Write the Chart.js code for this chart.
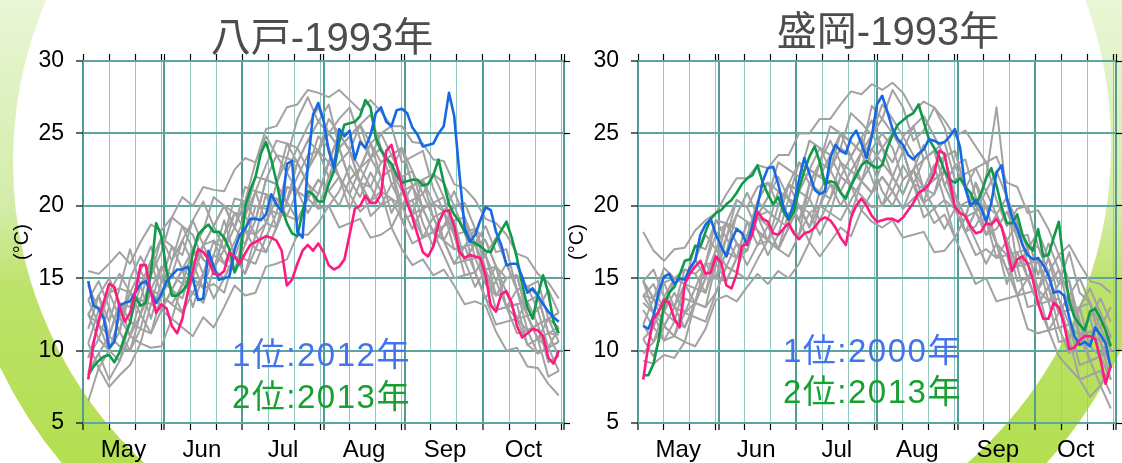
<!DOCTYPE html>
<html>
<head>
<meta charset="utf-8">
<script src="https://cdn.jsdelivr.net/npm/chart.js@4.4.1/dist/chart.umd.min.js"></script>
<style>
  html, body { margin: 0; padding: 0; background: #fff; }
  #wrap { position: relative; width: 1122px; height: 463px; overflow: hidden; }
  #deco { position: absolute; left: 0; top: 0; }
  canvas { position: absolute; top: 0; }
  #c1 { left: 0; }
  #c2 { left: 555px; }
  .ttl { position: absolute; font-family: "Liberation Sans", "Noto Sans CJK JP", sans-serif; font-size: 40px; line-height: 1;
         color: #4d4d4d; white-space: nowrap; transform: translate(-50%, -50%); }
  .lg { position: absolute; font-family: "Liberation Sans", "Noto Sans CJK JP", sans-serif; font-size: 33px; line-height: 1;
        white-space: nowrap; transform: translateY(-50%); letter-spacing: 1.5px; }
  .b { color: #4274f0; }
  .g { color: #18a031; }
</style>
</head>
<body>
<div id="wrap">
  <svg id="deco" width="1122" height="463">
    <defs>
      <linearGradient id="ring" x1="0" y1="0" x2="0" y2="463" gradientUnits="userSpaceOnUse">
        <stop offset="0" stop-color="#e9f6d6"/>
        <stop offset="0.45" stop-color="#d3eca8"/>
        <stop offset="0.62" stop-color="#bde26a"/>
        <stop offset="1" stop-color="#b3df50"/>
      </linearGradient>
      <clipPath id="clipL"><rect x="0" y="0" width="300" height="463"/></clipPath>
      <clipPath id="clipR"><rect x="800" y="0" width="322" height="463"/></clipPath>
    </defs>
    <circle cx="424" cy="162" r="441" fill="none" stroke="url(#ring)" stroke-width="60" clip-path="url(#clipL)"/>
    <circle cx="687" cy="145" r="452" fill="none" stroke="url(#ring)" stroke-width="56" clip-path="url(#clipR)"/>
  </svg>
  <canvas id="c1" width="575" height="463"></canvas>
  <canvas id="c2" width="567" height="463"></canvas>
  <div class="ttl" style="left:322px; top:37px;">八戸-1993年</div>
  <div class="ttl" style="left:888px; top:31px;">盛岡-1993年</div>
  <div class="lg b" style="left:232px; top:354px;">1位:2012年</div>
  <div class="lg g" style="left:232px; top:396px;">2位:2013年</div>
  <div class="lg b" style="left:783px; top:350px;">1位:2000年</div>
  <div class="lg g" style="left:783px; top:391px;">2位:2013年</div>
</div>
<script>
// days counted from 1 May
const lineDays = [2,4,6,8,10,12,14,16,18,20,22,24,26,28,30,32,34,36,38,40,42,44,46,48,50,52,54,56,58,60,
  62,64,66,68,70,72,74,76,78,80,82,84,86,88,90,92,94,96,98,100,102,104,106,108,110,112,114,116,118,120,
  122,124,126,128,130,132,134,136,138,140,142,144,146,148,150,152,154,156,158,160,162,164,166,168,170,172,174,176,178,180,182];
const grayDays = [2,6,10,14,18,22,26,30,34,38,42,46,50,54,58,62,66,70,74,78,82,86,90,94,98,102,106,110,114,118,
  122,126,130,134,138,142,146,150,154,158,162,166,170,174,178,182];

const monthNames = ["May", "Jun", "Jul", "Aug", "Sep", "Oct"];
const monthStarts = [0, 31, 61, 92, 123, 153, 184];
const junDays = [0,10,20,30,31,41,51,61,71,81,91,92,102,112,122,123,133,143,153,163,173,183,184];
const monthMids = [15.5, 45.5, 76.5, 107.5, 138.5, 168.5];
const tempTicks = [5, 10, 15, 20, 25, 30];

// 八戸
const hachinoheBlue = [14.8,13.1,12.9,12.2,10.2,10.6,13.1,13.3,13.4,14.0,14.6,14.8,14.0,13.3,13.9,14.8,15.2,15.6,15.6,15.8,
  15.0,13.5,13.6,16.9,15.8,14.9,15.0,15.1,17.0,18.0,18.4,19.1,19.1,19.0,19.4,20.8,20.1,19.6,22.9,23.1,
  18.2,17.8,22.8,26.3,27.1,25.9,23.8,22.6,25.3,24.8,25.2,23.2,24.4,24.0,24.9,26.4,26.8,25.8,25.5,26.6,
  26.7,26.4,25.4,24.9,24.1,24.2,24.3,25.0,25.5,27.8,26.2,22.2,18.5,17.5,18.0,19.0,19.9,19.7,18.2,17.3,
  15.9,16.0,16.0,15.1,14.0,14.3,13.8,13.2,12.7,12.3,12.0];
const hachinoheGreen = [8.3,8.9,9.3,9.6,9.7,9.2,9.9,11.0,11.9,13.7,13.1,13.3,15.4,18.8,17.9,15.5,13.8,13.8,14.1,14.6,
  16.7,18.0,18.4,18.7,18.2,18.2,17.8,17.0,15.4,16.2,19.9,21.1,22.0,23.6,24.4,23.2,21.7,19.9,18.8,18.1,
  17.9,19.6,21.0,20.8,20.3,20.3,21.5,22.4,24.4,25.6,25.7,25.8,26.2,27.3,26.8,24.7,23.8,23.3,22.9,22.1,
  21.6,21.7,21.8,21.8,21.4,21.5,22.1,23.2,21.6,20.1,19.4,18.9,18.2,17.6,17.4,17.2,16.9,16.8,17.6,18.3,
  18.9,17.8,16.4,14.6,13.0,12.2,13.8,15.2,14.0,12.0,11.2];
const hachinohe1993 = [8.0,10.5,12.1,13.4,14.6,14.4,13.0,12.0,12.6,14.0,15.9,15.9,14.0,12.6,13.2,12.9,11.7,11.2,12.2,14.0,
  15.5,17.0,16.8,16.3,15.3,15.2,15.5,16.8,16.5,16.0,16.7,17.3,17.5,17.7,17.9,17.8,17.6,16.9,14.5,14.9,
  16.0,16.9,17.3,16.9,17.4,16.8,15.9,15.6,15.8,16.3,18.0,19.8,20.0,20.7,20.2,20.2,20.8,23.8,24.2,22.8,
  21.3,20.2,19.2,18.0,16.8,16.5,17.2,18.8,19.6,19.7,18.6,16.8,16.4,16.6,16.5,16.4,15.2,13.1,12.7,13.9,
  14.1,13.3,11.7,10.9,11.2,11.5,11.4,11.0,9.5,9.1,10.0];
const hachinoheGray = [
  [13.5,14.8,13.0,11.3,15.0,16.5,15.2,16.8,19.2,18.6,17.0,18.3,20.6,20.0,18.5,20.3,23.0,24.8,23.5,23.3,26.0,27.5,25.8,25.0,26.0,26.8,24.6,23.3,25.0,25.5,23.0,23.4,23.8,21.2,19.6,21.0,19.2,17.4,18.6,16.8,17.0,14.2,14.4,14.8,12.2,12.6],
  [8.5,9.8,8.0,9.3,11.0,10.5,13.2,12.8,12.2,14.6,14.0,13.3,15.6,17.0,15.5,17.3,20.0,19.8,19.5,22.3,24.0,22.5,23.8,26.0,25.0,23.8,25.6,26.3,24.0,22.5,24.0,22.4,19.8,20.2,20.6,18.0,16.2,17.4,15.6,12.8,13.0,13.2,10.4,10.8,8.2,8.6],
  [11.5,13.8,11.0,13.3,11.0,13.5,16.2,13.8,15.2,17.6,16.0,14.3,16.6,19.0,16.5,15.3,18.0,20.8,18.5,20.3,23.0,21.5,19.8,22.0,24.0,21.8,20.6,22.3,21.0,18.5,20.0,20.4,17.8,18.2,19.6,17.0,17.2,18.4,15.6,13.8,15.0,15.2,12.4,12.8,10.2,10.6],
  [6.5,8.8,7.5,8.3,9.0,10.5,10.2,10.3,12.2,11.6,11.0,12.3,11.6,13.0,14.5,13.8,14.0,15.8,16.0,16.3,18.0,18.0,18.8,20.0,18.5,18.8,19.1,17.8,18.0,18.5,17.0,15.9,16.3,15.2,15.6,14.5,13.2,13.4,13.1,11.3,10.0,10.2,8.9,8.8,7.7,6.9],
  [15.5,15.3,16.0,16.8,16.0,17.5,18.7,18.3,19.2,20.6,20.0,21.3,21.1,21.0,22.5,23.3,23.0,25.3,25.5,26.8,27.0,28.0,27.8,27.5,28.0,27.3,26.6,27.3,26.5,25.5,25.5,24.4,24.3,23.2,23.1,21.5,21.2,20.4,19.1,18.8,18.0,16.7,16.4,15.3,14.7,13.6],
  [9.5,10.8,13.0,11.3,10.0,11.5,14.2,12.8,14.2,15.6,13.0,15.3,17.6,16.0,15.5,18.3,21.0,18.8,18.5,21.3,21.0,19.5,20.8,23.0,22.0,19.8,21.6,23.3,22.0,19.5,21.0,21.4,18.8,17.2,18.6,19.0,16.2,14.4,15.6,15.8,13.0,11.2,11.4,11.8,9.2,9.6],
  [12.5,11.8,14.0,15.3,14.0,12.5,14.2,15.8,14.2,13.6,16.0,17.3,15.6,18.0,20.5,20.3,19.0,21.8,21.5,20.3,23.0,24.5,25.8,27.0,24.0,24.8,25.6,23.3,24.0,22.5,20.0,21.4,21.8,19.2,17.6,19.0,19.2,16.4,14.6,15.8,14.0,12.2,13.4,11.8,12.2,11.6],
  [12.5,10.8,10.0,12.3,14.0,12.5,11.2,12.8,14.2,12.6,14.0,15.3,13.6,15.0,16.5,15.3,17.0,16.8,18.5,20.3,19.0,20.5,21.8,21.0,20.0,21.8,22.6,21.3,20.0,21.5,22.0,19.4,17.8,19.2,19.6,18.0,15.2,15.4,16.6,14.8,13.0,14.2,12.4,10.8,12.2,12.6],
  [14.5,12.8,14.0,14.3,17.0,14.5,16.2,17.8,16.2,17.6,19.0,17.3,18.6,20.0,19.5,19.3,22.0,21.8,21.5,24.3,24.0,25.5,26.8,25.0,24.0,24.8,25.6,24.3,23.0,23.5,24.0,21.4,21.8,22.2,20.6,18.0,18.2,18.4,16.6,17.8,16.0,14.2,14.4,12.8,14.2,12.6],
  [10.5,8.8,10.0,9.3,12.0,11.5,11.2,13.8,13.2,12.6,15.0,14.3,14.6,14.0,16.5,16.3,16.0,17.8,19.5,19.3,19.0,20.5,21.8,21.0,22.0,20.8,19.6,20.3,21.0,20.5,19.0,17.4,17.8,18.2,16.6,15.0,15.2,15.4,13.6,11.8,12.0,12.2,10.4,9.8,10.2,8.6],
  [12.5,13.8,15.0,13.3,13.0,15.5,17.2,14.8,17.2,16.6,19.0,20.3,18.6,17.0,18.5,21.3,21.0,22.8,24.5,24.3,23.0,24.5,23.8,23.0,25.0,23.8,22.6,24.3,25.0,23.5,22.0,22.4,20.8,22.2,21.6,20.0,20.2,18.4,17.6,15.8,15.0,15.2,14.4,13.8,11.2,11.6],
  [9.5,11.8,11.0,13.3,12.0,14.5,12.2,14.8,14.2,15.6,17.0,15.3,16.6,16.0,17.5,19.3,18.0,18.8,20.5,19.3,21.0,22.5,23.8,22.0,23.0,23.8,21.6,20.3,22.0,22.5,19.0,19.4,19.8,18.2,17.6,16.0,17.2,15.4,13.6,12.8,13.0,12.2,12.4,10.8,11.2,11.1],
  [10.5,12.8,14.0,12.3,11.0,12.5,15.2,17.8,17.2,15.6,15.0,17.3,18.6,20.0,18.5,17.3,19.0,21.8,23.5,22.3,21.0,22.5,24.8,24.0,22.0,20.8,22.6,23.3,24.0,21.5,20.0,18.4,19.8,20.2,17.6,16.0,16.2,17.4,17.6,15.8,13.0,13.2,13.4,13.8,11.2,9.6],
  [13.5,11.8,10.0,11.3,14.0,15.5,14.2,13.8,16.2,18.6,18.0,16.3,15.6,18.0,19.5,18.3,17.0,18.8,21.5,23.3,23.0,21.5,20.8,23.0,25.0,23.8,21.6,21.3,23.0,23.5,24.0,21.4,19.8,18.2,18.6,20.0,18.2,15.4,13.6,14.8,16.0,14.2,11.4,9.8,10.2,10.6],
  [8.5,9.8,11.0,10.3,10.0,12.5,14.2,13.8,13.2,14.6,17.0,16.3,15.6,15.0,16.5,18.3,18.0,16.8,18.5,21.3,21.0,20.5,19.8,20.0,21.0,22.8,21.6,19.3,20.0,20.5,20.0,20.4,20.8,19.2,17.6,17.0,17.2,17.4,14.6,13.8,14.0,12.2,11.4,11.8,12.2,10.6],
  [12.5,13.8,12.0,14.3,14.0,13.5,13.2,15.8,15.2,14.6,15.0,17.3,17.6,17.0,19.5,19.3,21.0,20.8,20.5,20.3,22.0,23.5,23.8,25.0,24.0,21.8,22.6,24.3,22.0,22.5,21.0,19.4,21.8,20.2,19.6,18.0,16.2,16.4,16.6,13.8,15.0,15.2,12.4,10.8,10.2,11.6]
];

// 盛岡
const moriokaBlue = [11.7,11.5,12.4,14.1,15.1,15.3,14.6,15.0,14.9,15.7,16.2,18.0,18.7,19.1,18.0,17.2,16.5,17.6,18.4,18.1,
  17.3,18.6,20.0,21.7,22.6,22.7,21.5,19.9,19.1,20.2,21.8,23.3,22.2,21.1,20.8,21.0,23.3,24.2,23.8,23.6,
  24.7,25.2,24.3,23.3,24.8,27.0,27.6,26.5,25.3,24.6,24.2,23.5,23.2,23.6,23.9,24.6,24.5,24.3,24.4,24.8,
  25.3,24.0,21.2,20.0,20.4,19.9,18.9,20.2,22.3,22.8,20.5,19.2,18.4,17.3,16.6,16.3,16.4,15.9,15.2,14.0,
  14.1,13.8,12.3,11.0,10.4,10.6,10.3,11.6,11.1,10.5,8.8];
const moriokaGreen = [8.3,8.3,9.1,10.8,13.2,14.0,14.4,15.2,16.2,16.3,17.2,17.2,18.2,19.1,19.5,19.7,20.1,20.4,20.9,21.5,
  21.9,22.1,22.8,21.6,20.8,20.1,20.6,19.6,19.0,19.6,21.2,22.4,23.4,24.1,23.0,21.5,21.7,21.6,20.9,20.5,
  21.4,22.1,22.8,23.1,22.8,22.6,22.8,24.0,24.9,25.6,25.9,26.2,26.4,27.0,25.8,24.6,24.0,23.4,22.4,21.8,
  21.6,21.9,21.3,20.9,20.1,20.8,21.9,22.6,21.4,19.9,18.8,18.8,19.4,18.0,17.3,16.9,18.4,16.5,16.6,17.8,
  18.9,15.8,13.4,12.3,11.8,11.4,12.7,12.9,12.2,11.4,10.3];
const morioka1993 = [8.0,10.4,12.2,12.7,13.5,13.3,12.2,11.6,14.6,15.3,15.8,16.2,15.3,15.4,16.5,16.1,14.5,14.3,15.3,17.2,
  17.4,18.0,19.6,19.1,18.9,18.1,18.0,18.4,18.8,18.1,17.7,18.1,18.2,18.5,19.0,19.2,19.0,18.5,17.8,17.3,
  19.2,20.0,20.5,20.0,19.3,18.9,19.0,19.1,19.1,18.9,19.2,19.7,20.2,20.9,21.1,21.5,22.2,23.8,23.6,21.7,
  19.9,19.5,19.3,18.6,18.1,18.2,18.8,18.7,19.1,18.5,17.1,15.5,16.3,16.5,16.0,14.9,13.3,12.2,12.2,13.3,
  13.0,11.8,10.1,10.2,10.7,11.0,11.0,10.8,9.4,7.7,9.0];
const moriokaGray = [
  [14.8,13.6,15.7,15.0,14.6,17.3,17.0,19.0,17.8,19.4,20.9,19.3,20.6,23.0,22.5,22.0,24.5,24.0,22.5,24.0,26.4,25.7,24.9,26.0,28.0,26.8,24.5,25.2,26.8,25.4,22.8,21.2,22.6,23.0,20.4,18.6,19.8,20.0,17.2,15.4,16.6,14.8,11.0,12.3,13.6,12.0],
  [10.8,9.6,11.7,11.0,13.6,13.3,13.0,16.0,17.8,16.4,17.9,20.3,19.6,19.0,21.5,23.0,21.5,23.0,25.5,25.0,23.4,24.7,25.9,24.0,23.0,24.8,23.5,21.2,21.8,22.4,19.8,18.2,19.6,22.0,26.8,20.5,15.8,13.0,13.2,13.4,10.6,10.8,8.0,8.3,8.6,7.0],
  [12.8,11.6,13.7,13.0,15.6,15.3,14.0,16.0,18.8,17.4,16.9,19.3,17.6,17.0,19.5,19.0,17.5,20.0,21.5,20.0,21.4,23.7,21.9,20.0,22.0,23.8,21.5,20.2,22.8,20.4,17.8,19.2,21.6,19.0,16.4,17.6,18.8,16.0,14.2,16.4,13.6,10.8,13.0,10.3,12.6,10.0],
  [9.3,9.1,9.7,9.5,10.6,10.3,11.5,13.5,13.8,13.4,14.4,15.3,14.6,15.5,15.0,16.0,17.5,16.5,17.5,18.5,17.9,19.7,18.9,18.5,19.0,17.8,18.0,18.2,16.8,16.9,17.8,16.2,14.6,15.0,13.4,13.6,13.8,11.5,11.2,11.4,9.6,8.8,8.0,6.8,7.6,6.0],
  [18.2,16.9,16.2,17.0,17.1,18.3,19.0,19.5,20.8,21.9,21.9,22.8,22.6,23.5,23.5,25.0,25.0,26.0,26.0,27.0,27.9,27.7,28.4,28.0,28.5,27.8,26.5,27.2,26.8,25.9,24.8,25.2,24.1,23.0,23.4,21.6,21.3,19.5,19.7,18.4,16.6,17.3,16.0,14.8,14.6,14.0],
  [11.8,10.6,12.7,12.0,11.6,13.3,16.0,16.0,14.8,16.4,18.9,18.3,16.6,18.0,20.5,20.0,18.5,21.0,22.5,21.0,19.4,21.7,22.9,21.0,20.0,21.8,22.5,20.2,20.8,23.4,20.8,18.2,18.6,20.0,17.4,14.6,16.8,15.0,13.2,14.4,11.6,9.8,11.0,12.3,9.6,8.0],
  [13.8,13.6,12.7,14.0,12.6,14.3,16.0,15.0,16.8,19.4,18.9,17.3,18.6,21.0,20.5,19.0,21.5,23.0,22.5,25.0,24.4,23.7,26.9,26.0,25.0,23.8,21.5,23.2,23.8,21.4,22.8,23.2,20.6,18.0,19.4,17.6,14.8,15.0,16.2,14.4,12.6,13.8,15.0,13.3,10.6,11.0],
  [14.8,13.6,11.7,13.0,14.6,13.3,15.0,17.0,15.8,15.4,17.9,19.3,18.6,17.0,18.5,21.0,20.5,19.0,20.5,22.0,21.4,19.7,20.9,22.0,21.0,19.8,21.5,20.2,18.8,19.4,17.8,19.2,17.6,16.0,17.4,15.6,13.8,15.0,13.2,11.4,12.6,13.8,12.0,9.3,9.6,11.0],
  [14.8,15.6,13.7,15.0,14.6,16.3,18.0,17.0,18.8,18.4,17.9,20.3,21.6,21.0,20.5,23.0,22.5,22.0,23.5,25.0,24.4,23.7,24.9,27.0,26.0,24.8,25.5,23.2,23.8,24.4,21.8,22.2,22.6,21.0,19.4,20.6,18.8,17.0,18.2,16.4,14.6,16.8,14.0,13.3,11.6,13.0],
  [10.8,11.6,10.7,11.0,12.6,12.3,12.0,14.0,15.8,15.4,14.9,16.3,17.6,17.0,16.5,18.0,19.5,20.0,19.5,19.0,20.4,21.7,20.9,22.0,21.0,19.8,20.5,21.2,19.8,18.4,19.8,18.2,16.6,17.0,16.4,16.6,13.8,14.0,14.2,11.4,11.6,11.8,9.0,9.3,7.6,9.0],
  [13.8,12.6,14.7,15.0,15.6,15.3,16.0,18.0,18.8,20.4,19.9,21.3,21.6,20.0,21.5,21.0,22.5,24.0,23.5,22.0,23.4,24.7,22.9,24.0,25.0,23.8,25.5,26.2,24.8,23.4,23.8,21.2,19.6,21.0,22.4,20.6,17.8,18.0,15.2,17.4,15.6,12.8,13.0,14.3,12.6,11.0],
  [13.3,12.6,11.7,13.0,12.6,13.3,13.0,14.0,15.8,17.4,15.9,17.3,17.6,19.0,18.5,18.0,21.5,21.0,20.5,23.0,22.4,21.7,23.9,23.0,22.0,20.8,22.5,21.2,20.8,22.4,20.8,19.2,19.6,18.0,19.4,17.6,15.8,17.0,14.2,15.4,12.6,13.8,11.0,11.3,10.6,8.0],
  [9.8,10.6,11.7,11.0,10.6,13.3,15.0,15.0,14.8,16.4,18.9,18.3,17.6,17.0,18.5,20.0,19.5,18.0,19.5,22.0,21.4,20.7,19.9,20.0,21.0,22.8,21.5,19.2,19.8,20.4,19.8,20.2,20.6,19.0,17.4,16.6,16.8,17.0,14.2,13.4,13.6,11.8,11.0,11.3,11.6,10.0],
  [13.8,14.6,12.7,15.0,14.6,14.3,14.0,17.0,16.8,16.4,16.9,19.3,19.6,19.0,21.5,21.0,22.5,22.0,21.5,21.0,22.4,23.7,23.9,25.0,24.0,21.8,22.5,24.2,21.8,22.4,20.8,19.2,21.6,20.0,19.4,17.6,15.8,16.0,16.2,13.4,14.6,14.8,12.0,10.3,9.6,11.0],
  [11.8,13.6,14.7,13.0,11.6,13.3,16.0,19.0,18.8,17.4,16.9,19.3,20.6,22.0,20.5,19.0,20.5,23.0,24.5,23.0,21.4,22.7,24.9,24.0,22.0,20.8,22.5,23.2,23.8,21.4,19.8,18.2,19.6,20.0,17.4,15.6,15.8,17.0,17.2,15.4,12.6,12.8,13.0,13.3,10.6,9.0],
  [14.8,12.6,10.7,12.0,14.6,16.3,15.0,15.0,17.8,20.4,19.9,18.3,17.6,20.0,21.5,20.0,18.5,20.0,22.5,24.0,23.4,21.7,20.9,23.0,25.0,23.8,21.5,21.2,22.8,23.4,23.8,21.2,19.6,18.0,18.4,19.6,17.8,15.0,13.2,14.4,15.6,13.8,11.0,9.3,9.6,10.0]
];

const FONT = "'Liberation Sans', Arial, Helvetica, sans-serif";
const xTickValues = junDays.concat(monthMids).sort((a, b) => a - b);

function setXTicks(scale) {
  scale.ticks = xTickValues.map(v => ({ value: v }));
}
function setYTicks(scale) {
  scale.ticks = tempTicks.map(v => ({ value: v }));
}
function tickVal(ctx) {
  return ctx.tick ? ctx.tick.value : null;
}
function vLineColor(ctx) {
  const v = tickVal(ctx);
  if (monthStarts.includes(v)) return "#4f9d95";
  if (junDays.includes(v)) return "#93c8c2";
  return "rgba(0,0,0,0)";
}
function vLineWidth(ctx) {
  return monthStarts.includes(tickVal(ctx)) ? 2 : 1;
}
function vTickColor(ctx) {
  return junDays.includes(tickVal(ctx)) ? "#000" : "rgba(0,0,0,0)";
}

function drawPanel(id, rightWidth, gray, blue, green, worst) {
  const pts = (days, vals) => vals.map((v, i) => ({ x: days[i], y: v }));
  const datasets = [
    { data: pts(lineDays, worst), borderColor: "#ff1a80", borderWidth: 2.6 },
    { data: pts(lineDays, blue), borderColor: "#1668e3", borderWidth: 2.6 },
    { data: pts(lineDays, green), borderColor: "#0e9a48", borderWidth: 2.6 }
  ];
  gray.forEach(g => datasets.push({ data: pts(grayDays, g), borderColor: "#a2a2a2", borderWidth: 2 }));

  return new Chart(document.getElementById(id), {
    type: "line",
    data: { datasets: datasets },
    options: {
      responsive: false,
      animation: false,
      devicePixelRatio: 1,
      layout: { padding: 0 },
      elements: { point: { radius: 0 }, line: { tension: 0, borderJoinStyle: "round" } },
      plugins: { legend: { display: false }, tooltip: { enabled: false } },
      scales: {
        x: {
          type: "linear", position: "bottom", min: 0, max: 184,
          afterBuildTicks: setXTicks,
          afterFit: s => { s.height = 40; },
          border: { display: false },
          grid: { color: vLineColor, lineWidth: vLineWidth, tickColor: vTickColor, tickWidth: 1.2, tickLength: 7 },
          ticks: {
            autoSkip: false, maxRotation: 0, padding: 6, color: "#000",
            font: { family: FONT, size: 24 },
            callback: v => { const i = monthMids.indexOf(v); return i < 0 ? "" : monthNames[i]; }
          }
        },
        xTop: {
          type: "linear", position: "top", min: 0, max: 184,
          afterBuildTicks: setXTicks,
          afterFit: s => { s.height = 61; },
          border: { display: false },
          grid: { drawOnChartArea: false, tickColor: vTickColor, tickWidth: 1.2, tickLength: 7 },
          ticks: { display: false }
        },
        y: {
          type: "linear", position: "left", min: 5, max: 30,
          afterBuildTicks: setYTicks,
          afterFit: s => { s.width = 83; },
          border: { display: false },
          grid: { color: "#5da69f", lineWidth: 2, tickColor: "#000", tickWidth: 1.2, tickLength: 7 },
          ticks: { padding: 12, color: "#000", font: { family: FONT, size: 23 } },
          title: { display: true, text: "(°C)", color: "#000", font: { family: FONT, size: 20 }, padding: { top: 10, bottom: 0 } }
        },
        yRight: {
          type: "linear", position: "right", min: 5, max: 30,
          afterBuildTicks: setYTicks,
          afterFit: s => { s.width = rightWidth; },
          border: { display: false },
          grid: { drawOnChartArea: false, tickColor: "#000", tickWidth: 1.2, tickLength: 6 },
          ticks: { display: false }
        }
      }
    }
  });
}

drawPanel("c1", 11, hachinoheGray, hachinoheBlue, hachinoheGreen, hachinohe1993);
drawPanel("c2", 3, moriokaGray, moriokaBlue, moriokaGreen, morioka1993);
</script>
</body>
</html>
